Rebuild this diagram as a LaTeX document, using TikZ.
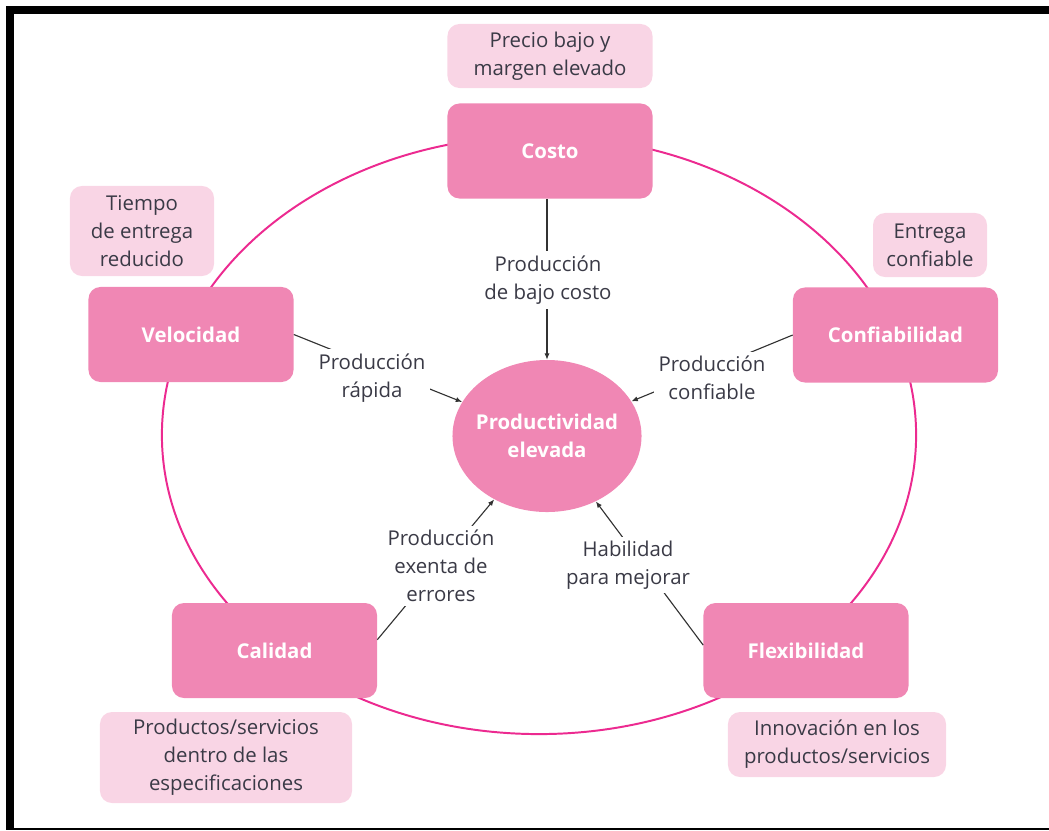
\documentclass[tikz,border=0pt]{standalone}
\usepackage{fontspec}
\setmainfont{Open Sans}
\usetikzlibrary{arrows.meta,shapes.geometric}
\definecolor{ringpink}{RGB}{236,42,144}
\definecolor{boxpink}{RGB}{240,135,180}
\definecolor{notepink}{RGB}{249,213,229}
\definecolor{labgray}{RGB}{58,58,70}
\definecolor{arrgray}{RGB}{50,50,50}
\newcommand{\txt}{\fontsize{14.5}{20}\selectfont}
\tikzset{
  mainbox/.style   = {rectangle,rounded corners=3mm,fill=boxpink,text=white,
                      minimum width=5.125cm,minimum height=2.375cm,font=\txt\bfseries},
  notebox/.style 2 args = {rectangle,rounded corners=3mm,fill=notepink,text=labgray,
                      align=center,inner sep=0pt,minimum width=#1,minimum height=#2,font=\txt},
  linklabel/.style = {fill=white,text=labgray,align=center,inner sep=3pt,font=\txt},
  linkarr/.style   = {-{Latex[length=1.6mm,width=1.3mm]},arrgray,line width=0.8pt},
  ringline/.style  = {ringpink,line width=1.4pt}
}

\begin{document}
\begin{tikzpicture}[x=0.025cm,y=-0.025cm]
  \useasboundingbox (0,0) rectangle (1049,830);
  % frame
  \fill[black] (6,6) rectangle (1049,14);
  \fill[black] (6,6) rectangle (14,830);
  \fill[black] (6,828) rectangle (1049,830);

  \draw[ringline] (539,435) ellipse [x radius=9.425cm,y radius=7.475cm];

  \node[ellipse,fill=boxpink,text=white,inner xsep=-6pt,inner ysep=0pt,
        minimum width=4.725cm,minimum height=3.8cm,
        align=center,font=\txt\bfseries] (prod) at (547,436) {Productividad\\elevada};

  \node[mainbox] (costo) at (550,151)   {Costo};
  \node[mainbox] (veloc) at (191,334.5) {Velocidad};
  \node[mainbox] (confi) at (895.5,335) {Confiabilidad};
  \node[mainbox] (calid) at (274.5,650.5) {Calidad};
  \node[mainbox] (flexi) at (806,650.5) {Flexibilidad};

  \node[notebox={5.125cm}{1.6cm}]  (ncosto) at (550,56)    {Precio bajo y\\margen elevado};
  \node[notebox={3.6cm}{2.25cm}]   (nveloc) at (142,231)   {Tiempo\\de entrega\\reducido};
  \node[notebox={2.85cm}{1.6cm}]   (nconfi) at (930,245)   {Entrega\\confiable};
  \node[notebox={6.3cm}{2.275cm}]  (ncalid) at (226,757.5) {Productos/servicios\\dentro de las\\especificaciones};
  \node[notebox={5.45cm}{1.625cm}] (nflexi) at (837,744.5) {Innovación en los\\productos/servicios};

  \draw[linkarr] (costo.south -| prod) -- (prod);
  \draw[linkarr] (veloc.east) -- (prod);
  \draw[linkarr] (confi.west) -- (prod);
  \draw[linkarr] (calid.6) -- (prod);
  \draw[linkarr] (flexi.177) -- (prod);

  \node[linklabel] (lcosto) at (548,280) {Producción\\de bajo costo};
  \node[linklabel] (lveloc) at (372,378) {Producción\\rápida};
  \node[linklabel] (lconfi) at (712,378) {Producción\\confiable};
  \node[linklabel] (lcalid) at (441,566) {Producción\\exenta de\\errores};
  \node[linklabel] (lflexi) at (628,565) {Habilidad\\para mejorar};
\end{tikzpicture}
\end{document}
